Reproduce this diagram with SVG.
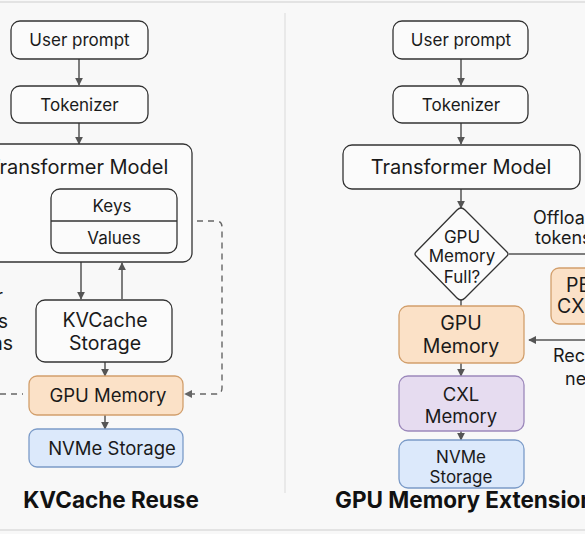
<svg xmlns="http://www.w3.org/2000/svg" width="585" height="534" viewBox="0 0 585 534">
<defs>
<marker id="ah" viewBox="0 0 10 10" refX="9" refY="5" markerWidth="8" markerHeight="8" markerUnits="userSpaceOnUse" orient="auto">
<path d="M0,0 L10,5 L0,10 z" fill="#555"/>
</marker>
<marker id="ahd" viewBox="0 0 10 10" refX="9" refY="5" markerWidth="8" markerHeight="8" markerUnits="userSpaceOnUse" orient="auto">
<path d="M0,0 L10,5 L0,10 z" fill="#666"/>
</marker>
</defs>
<style>
text{font-family:Inter,"Liberation Sans",sans-serif;fill:#1a1a1a;text-anchor:middle;dominant-baseline:central}
.box{fill:#fbfbfb;stroke:#333;stroke-width:1.3}
.t{font-size:17px}
.tl{font-size:18.5px}
.tm{font-size:19.5px}
.tw{font-size:18.5px}
.orange{fill:#fbe1c7;stroke:#d29f6c;stroke-width:1.3}
.blue{fill:#dce9fb;stroke:#7b9bc8;stroke-width:1.3}
.purple{fill:#e6dcf0;stroke:#9c88bb;stroke-width:1.3}
.title{font-size:22.5px;font-weight:bold;fill:#111}
.c{stroke:#555;stroke-width:1.5;fill:none}
.d{stroke:#666;stroke-width:1.4;fill:none;stroke-dasharray:6 5}
.side{font-size:18px;text-anchor:start}
</style>
<rect x="0" y="0" width="585" height="534" fill="#f8f8f8"/>
<line x1="0" y1="2" x2="585" y2="2" stroke="#dcdcdc" stroke-width="1.5"/>
<line x1="0" y1="530" x2="585" y2="530" stroke="#dcdcdc" stroke-width="1.5"/>
<line x1="285" y1="13" x2="285" y2="493" stroke="#e0e0e0" stroke-width="1.2"/>

<g id="connectors">
<path class="c" d="M79,59 V85" marker-end="url(#ah)"/>
<path class="c" d="M79,123 V144" marker-end="url(#ah)"/>
<path class="d" d="M0,214 H50" marker-end="url(#ahd)"/>
<path class="d" d="M197,221 H216 Q222,221 222,227 V388 Q222,394 216,394 H185" marker-end="url(#ahd)"/>
<path class="c" d="M81,262 V299" marker-end="url(#ah)"/>
<path class="c" d="M122,299 V263" marker-end="url(#ah)"/>
<path class="c" d="M105,362 V376" marker-end="url(#ah)"/>
<path class="d" d="M0,394 H23"/>
<path class="c" d="M105,415 V429" marker-end="url(#ah)"/>

<path class="c" d="M461,59 V85" marker-end="url(#ah)"/>
<path class="c" d="M461,123 V144" marker-end="url(#ah)"/>
<path class="c" d="M461,189 V208" marker-end="url(#ah)"/>
<path class="c" d="M461,300 V306"/>
<path class="c" d="M509,254 H585"/>
<path class="c" d="M585,340 H529" marker-end="url(#ah)"/>
<path class="c" d="M461,363 V376" marker-end="url(#ah)"/>
<path class="c" d="M461,431 V440" marker-end="url(#ah)"/>
</g>

<g id="l-user-prompt">
<rect class="box" x="11" y="21" width="137" height="38" rx="9"/>
<text class="t" x="79.5" y="40">User prompt</text>
</g>
<g id="l-tokenizer">
<rect class="box" x="11" y="86" width="137" height="37" rx="9"/>
<text class="t" x="79.5" y="104.5">Tokenizer</text>
</g>
<g id="l-transformer">
<rect class="box" x="-42" y="144" width="234" height="118" rx="9"/>
<text class="tm" x="78" y="167" style="font-size:20px">Transformer Model</text>
</g>
<g id="l-kv">
<rect class="box" x="51" y="189" width="126" height="64" rx="9"/>
<line x1="51" y1="221" x2="177" y2="221" stroke="#333" stroke-width="1.3"/>
<text class="t" x="112" y="206">Keys</text>
<text class="t" x="114" y="238">Values</text>
</g>
<g id="l-kvcache">
<rect class="box" x="36" y="300" width="136" height="62" rx="9"/>
<text class="tm" x="105" y="320">KVCache</text>
<text class="tm" x="105" y="343">Storage</text>
</g>
<g id="l-gpu">
<rect class="orange" x="29" y="376" width="154" height="39" rx="8"/>
<text class="tl" x="108" y="395">GPU Memory</text>
</g>
<g id="l-nvme">
<rect class="blue" x="29" y="429" width="154" height="38" rx="8"/>
<text class="tl" x="112" y="448">NVMe Storage</text>
</g>
<g id="l-side">
<text class="t" x="3" y="296" style="text-anchor:end">r</text>
<text class="tm" x="8" y="321" style="text-anchor:end">s</text>
<text class="tm" x="13" y="343" style="text-anchor:end">ns</text>
</g>
<text class="title" x="111" y="499">KVCache Reuse</text>

<g id="r-user-prompt">
<rect class="box" x="393" y="21" width="135" height="38" rx="9"/>
<text class="t" x="461" y="40">User prompt</text>
</g>
<g id="r-tokenizer">
<rect class="box" x="393" y="86" width="135" height="37" rx="9"/>
<text class="t" x="461" y="104.5">Tokenizer</text>
</g>
<g id="r-transformer">
<rect class="box" x="343" y="145" width="237" height="44" rx="9"/>
<text class="tm" x="461" y="167" style="font-size:20px">Transformer Model</text>
</g>
<g id="r-decision">
<path class="box" d="M461,208 Q463,208 465,210 L507,252 Q509,254 507,256 L465,298 Q463,300 461,300 Q459,300 457,298 L416,256 Q414,254 416,252 L457,210 Q459,208 461,208 z"/>
<text class="t" x="462" y="237">GPU</text>
<text class="t" x="462" y="256">Memory</text>
<text class="t" x="462" y="277">Full?</text>
</g>
<g id="r-offload-label">
<text class="side" x="533" y="217">Offload</text>
<text class="side" x="535" y="237">tokens</text>
</g>
<g id="r-pe">
<rect class="orange" x="551" y="268" width="50" height="56" rx="8"/>
<text class="side" x="566" y="285" style="font-size:19.5px">PE</text>
<text class="side" x="557" y="306" style="font-size:19.5px">CX</text>
</g>
<g id="r-gpu">
<rect class="orange" x="399" y="306" width="125" height="57" rx="9"/>
<text class="tm" x="461" y="323">GPU</text>
<text class="tm" x="461" y="346">Memory</text>
</g>
<g id="r-rec-label">
<text class="side" x="553" y="355">Rec</text>
<text class="side" x="565" y="378">ne</text>
</g>
<g id="r-cxl">
<rect class="purple" x="399" y="376" width="125" height="55" rx="9"/>
<text class="tw" x="461" y="394">CXL</text>
<text class="tw" x="461" y="416">Memory</text>
</g>
<g id="r-nvme">
<rect class="blue" x="399" y="440" width="125" height="48" rx="9"/>
<text class="t" x="461" y="457">NVMe</text>
<text class="t" x="461" y="477">Storage</text>
</g>
<text class="title" x="335" y="499" style="text-anchor:start">GPU Memory Extension</text>
</svg>
